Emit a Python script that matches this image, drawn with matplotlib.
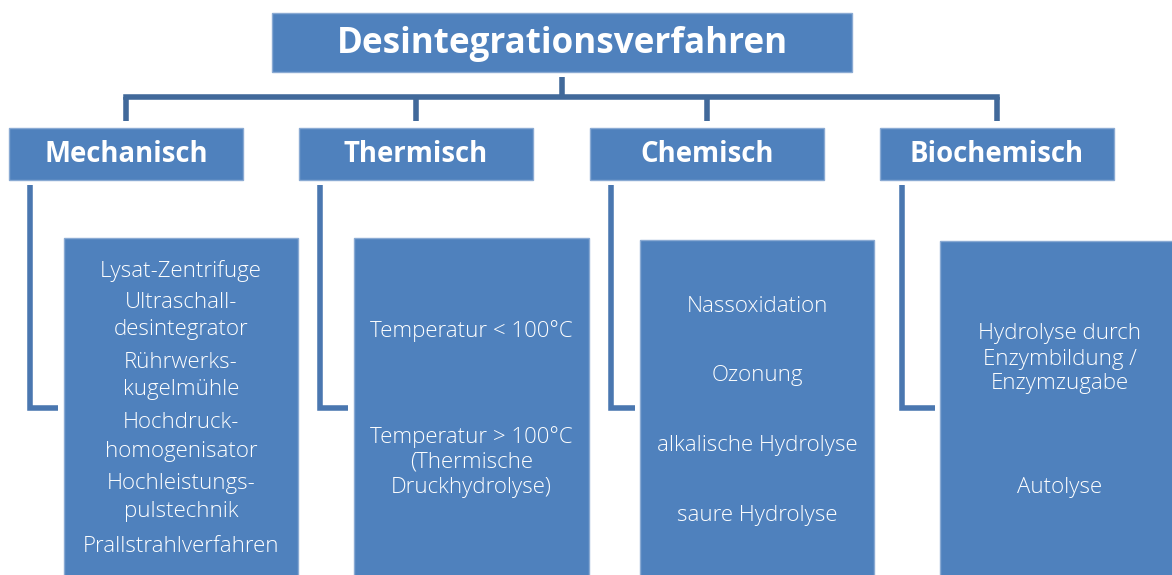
import matplotlib
matplotlib.use("Agg")
import matplotlib.pyplot as plt
from matplotlib.patches import Rectangle

# ---- data ----
title = "Desintegrationsverfahren"
categories = ["Mechanisch", "Thermisch", "Chemisch", "Biochemisch"]
mech_items = ["Lysat-Zentrifuge", "Ultraschall-\ndesintegrator", "Rührwerks-\nkugelmühle",
              "Hochdruck-\nhomogenisator", "Hochleistungs-\npulstechnik", "Prallstrahlverfahren"]
therm_items = ["Temperatur < 100°C", "Temperatur > 100°C\n(Thermische\nDruckhydrolyse)"]
chem_items = ["Nassoxidation", "Ozonung", "alkalische Hydrolyse", "saure Hydrolyse"]
bio_items = ["Hydrolyse durch\nEnzymbildung /\nEnzymzugabe", "Autolyse"]
items = [mech_items, therm_items, chem_items, bio_items]

# ---- layout (pixels) ----
W, H = 1172, 575
BLUE = "#4F81BD"
EDGE = "#8AAAD3"
LINE = "#41699A"
BRK = "#4A77B0"
FONT = "Open Sans"

cat_x = [9, 299, 590, 880]
cat_w = 234
cat_y0, cat_y1 = 128, 180
det_x = [64, 354, 640, 940]
det_w = [234, 235, 234, 240]
det_y0 = [238, 238, 240, 241]
brk_x = [30, 320, 611, 902]
brk_end = [58, 348, 635, 935]
brk_y = 408
item_centers = [[271, 316, 376, 437, 497, 546], [331, 462], [306, 375, 445, 515], [359, 488]]
line_gap = [28, 25, 25, 25]

fig = plt.figure(figsize=(W / 100, H / 100), dpi=100)
ax = fig.add_axes([0, 0, 1, 1])
ax.set_xlim(0, W)
ax.set_ylim(H, 0)
ax.axis("off")

# title box
ax.add_patch(Rectangle((272, 13), 580, 59, facecolor=BLUE, edgecolor=EDGE, lw=1))
ax.text(562, 53, title, ha="center", va="baseline", color="white",
        fontsize=25.2, fontweight="bold", family=FONT)

# connectors
ax.plot([562, 562], [77, 97], color=LINE, lw=4, solid_capstyle="butt")
centers = [x + cat_w / 2 for x in cat_x]
ax.plot([centers[0], centers[-1]], [97, 97], color=LINE, lw=4, solid_capstyle="projecting")
for c in centers:
    ax.plot([c, c], [97, 121], color=LINE, lw=4, solid_capstyle="butt")

for i, cat in enumerate(categories):
    ax.add_patch(Rectangle((cat_x[i], cat_y0), cat_w, cat_y1 - cat_y0,
                           facecolor=BLUE, edgecolor=EDGE, lw=1))
    ax.text(centers[i], (cat_y0 + cat_y1) / 2 + 1, cat, ha="center", va="center",
            color="white", fontsize=19.8, fontweight="bold", family=FONT)
    # bracket
    ax.plot([brk_x[i], brk_x[i], brk_end[i]], [185, brk_y, brk_y], color=BRK, lw=4,
            solid_joinstyle="miter", solid_capstyle="butt")
    # detail box
    ax.add_patch(Rectangle((det_x[i], det_y0[i]), det_w[i], H - det_y0[i] + 5,
                           facecolor=BLUE, edgecolor=EDGE, lw=1))
    cx = det_x[i] + det_w[i] / 2
    for item, yc in zip(items[i], item_centers[i]):
        lines = item.split("\n")
        n = len(lines)
        for k, ln in enumerate(lines):
            y = yc + (k - (n - 1) / 2) * line_gap[i]
            ax.text(cx, y, ln, ha="center", va="center", color="white",
                    fontsize=16, fontweight="light", family=FONT)

fig.savefig("out.png", dpi=100)
